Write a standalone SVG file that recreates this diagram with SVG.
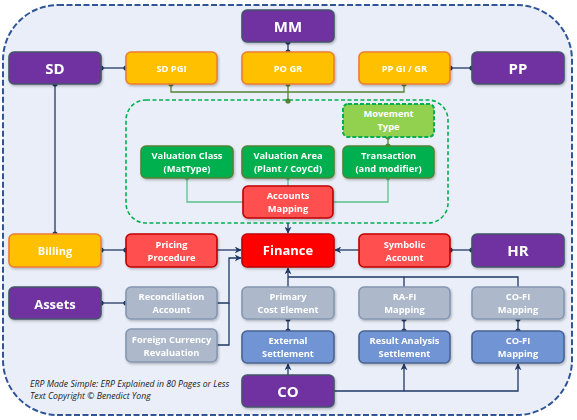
<svg xmlns="http://www.w3.org/2000/svg" width="577" height="420" viewBox="0 0 577 420">
<defs>
<style>
.n{stroke-width:1.6}
.pu{fill:#7030A0;stroke:#44546A}
.ye{fill:#FFC000;stroke:#ED7D31}
.rd{fill:#FF5050;stroke:#C00000}
.fi{fill:#FF0000;stroke:#C00000}
.dg{fill:#00B050;stroke:#548235}
.lg{fill:#92D050;stroke:#00B050;stroke-dasharray:4 2;stroke-width:2}
.gy{fill:#ADB9CA;stroke:#8497B0}
.bl{fill:#6F94D4;stroke:#4A6391}
text{font-family:"Open Sans","Liberation Sans",sans-serif;font-weight:bold;fill:#fff;text-anchor:middle}
.t{font-size:9.3px}
.b{font-size:15px}
.m{font-size:11px}
.c{stroke:#1F3864;stroke-width:1.3;fill:none}
.g{stroke:#548235;stroke-width:1.3;fill:none}
.lgl{stroke:#5CC08A;stroke-width:1.3;fill:none}
.d{fill:#1F3864}
.dgd{fill:#548235}
.ft{font-family:"Open Sans","Liberation Sans",sans-serif;font-style:italic;font-weight:normal;fill:#222;text-anchor:start;font-size:8.7px}
</style>
<marker id="a" viewBox="0 0 10 10" refX="9" refY="5" markerWidth="7" markerHeight="7" orient="auto-start-reverse" markerUnits="userSpaceOnUse">
<path d="M0,0 L10,5 L0,10 L3,5 Z" fill="#1F3864"/>
</marker>
<filter id="sh" x="-10%" y="-10%" width="130%" height="140%">
<feDropShadow dx="1" dy="1.5" stdDeviation="1.2" flood-color="#000" flood-opacity="0.25"/>
</filter>
</defs>
<rect x="3" y="5" width="569" height="410" rx="55" fill="#EAEEF8" stroke="#2F5597" stroke-width="2" stroke-dasharray="6 2.5"/>
<rect id="group-box" x="126" y="100" width="322" height="123" rx="20" fill="none" stroke="#00B050" stroke-width="1.6" stroke-dasharray="4 2.5"/>

<g id="connectors">
<line class="c" x1="101" y1="68" x2="126" y2="68"/>
<line class="c" x1="450" y1="68" x2="472" y2="68"/>
<line class="c" x1="288" y1="42" x2="288" y2="52"/>
<polyline class="g" points="171,84 171,92 404,92 404,84"/>
<line class="g" x1="288" y1="84" x2="288" y2="101"/>
<line class="g" x1="388" y1="137" x2="388" y2="146"/>
<polyline class="lgl" points="187,178 187,202 243,202"/>
<polyline class="lgl" points="388,178 388,202 333,202"/>
<line class="lgl" x1="288" y1="178" x2="288" y2="186"/>
<line class="c" x1="288" y1="223" x2="288" y2="233" marker-end="url(#a)"/>
<line class="c" x1="55" y1="84" x2="55" y2="234"/>
<line class="c" x1="101" y1="250" x2="126" y2="250"/>
<line class="c" x1="217" y1="250" x2="241" y2="250" marker-end="url(#a)"/>
<polyline class="c" points="217,303 229,303 229,258 241,258" marker-end="url(#a)"/>
<polyline class="c" points="217,345 229,345 229,303"/>
<line class="c" x1="101" y1="303" x2="126" y2="303"/>
<line class="c" x1="450" y1="250" x2="472" y2="250"/>
<line class="c" x1="359" y1="250" x2="335" y2="250" marker-end="url(#a)"/>
<line class="c" x1="288" y1="287" x2="288" y2="268" marker-end="url(#a)"/>
<polyline class="c" points="404,287 404,277 288,277"/>
<polyline class="c" points="518,287 518,277 404,277"/>
<line class="c" x1="288" y1="319" x2="288" y2="331"/>
<line class="c" x1="404" y1="319" x2="404" y2="331"/>
<line class="c" x1="518" y1="319" x2="518" y2="331"/>
<line class="c" x1="288" y1="375" x2="288" y2="364" marker-end="url(#a)"/>
<polyline class="c" points="333,391 518,391 518,364" marker-end="url(#a)"/>
<line class="c" x1="404" y1="391" x2="404" y2="364" marker-end="url(#a)"/>
<g class="d">
<circle cx="101" cy="68" r="2.6"/><circle cx="126" cy="68" r="2.6"/>
<circle cx="450" cy="68" r="2.6"/><circle cx="472" cy="68" r="2.6"/>
<circle cx="288" cy="42" r="2.6"/><circle cx="288" cy="52" r="2.6"/>
<circle cx="55" cy="84" r="2.6"/><circle cx="55" cy="234" r="2.6"/>
<circle cx="101" cy="250" r="2.6"/><circle cx="126" cy="250" r="2.6"/>
<circle cx="101" cy="303" r="2.6"/><circle cx="126" cy="303" r="2.6"/>
<circle cx="450" cy="250" r="2.6"/><circle cx="472" cy="250" r="2.6"/>
<circle cx="288" cy="319" r="2.6"/><circle cx="288" cy="331" r="2.6"/>
<circle cx="404" cy="319" r="2.6"/><circle cx="404" cy="331" r="2.6"/>
<circle cx="518" cy="319" r="2.6"/><circle cx="518" cy="331" r="2.6"/>
</g>
<g class="dgd">
<circle cx="171" cy="84" r="2.6"/><circle cx="288" cy="84" r="2.6"/><circle cx="404" cy="84" r="2.6"/>
<circle cx="288" cy="101" r="2.6"/>
<circle cx="388" cy="137" r="2.6"/><circle cx="388" cy="146" r="2.6"/>
</g>
<g fill="#5CC08A">
<circle cx="187" cy="178" r="2.2"/><circle cx="288" cy="178" r="2.2"/><circle cx="388" cy="178" r="2.2"/>
</g>
</g>

<g id="MM" filter="url(#sh)"><rect class="n pu" x="242" y="10" width="92" height="32" rx="5"/><text class="b" x="288" y="31.5">MM</text></g>
<g id="SD" filter="url(#sh)"><rect class="n pu" x="9" y="52" width="92" height="32" rx="5"/><text class="b" x="55" y="73.5">SD</text></g>
<g id="SDPGI" filter="url(#sh)"><rect class="n ye" x="126" y="52" width="91" height="32" rx="5"/><text class="t" x="171.5" y="71.5">SD PGI</text></g>
<g id="POGR" filter="url(#sh)"><rect class="n ye" x="242" y="52" width="92" height="32" rx="5"/><text class="t" x="288" y="71.5">PO GR</text></g>
<g id="PPGIGR" filter="url(#sh)"><rect class="n ye" x="359" y="52" width="91" height="32" rx="5"/><text class="t" x="404.5" y="71.5">PP GI / GR</text></g>
<g id="PP" filter="url(#sh)"><rect class="n pu" x="472" y="52" width="92" height="32" rx="5"/><text class="b" x="518" y="73.5">PP</text></g>

<g id="MovementType"><rect class="lg" x="343" y="104" width="91" height="33" rx="5"/><text class="t" x="388.5" y="117">Movement</text><text class="t" x="388.5" y="130">Type</text></g>
<g id="ValuationClass" filter="url(#sh)"><rect class="n dg" x="141" y="146" width="92" height="32" rx="5"/><text class="t" x="187" y="159">Valuation Class</text><text class="t" x="187" y="172">(MatType)</text></g>
<g id="ValuationArea" filter="url(#sh)"><rect class="n dg" x="242" y="146" width="92" height="32" rx="5"/><text class="t" x="288" y="159">Valuation Area</text><text class="t" x="288" y="172">(Plant / CoyCd)</text></g>
<g id="Transaction" filter="url(#sh)"><rect class="n dg" x="343" y="146" width="91" height="32" rx="5"/><text class="t" x="388.5" y="159">Transaction</text><text class="t" x="388.5" y="172">(and modifier)</text></g>
<g id="AccountsMapping" filter="url(#sh)"><rect class="n rd" x="243" y="186" width="90" height="32" rx="5"/><text class="t" x="288" y="199">Accounts</text><text class="t" x="288" y="212">Mapping</text></g>

<g id="Billing" filter="url(#sh)"><rect class="n ye" x="9" y="234" width="92" height="33" rx="5"/><text class="m" x="55" y="254.5">Billing</text></g>
<g id="PricingProcedure" filter="url(#sh)"><rect class="n rd" x="126" y="234" width="91" height="33" rx="5"/><text class="t" x="171.5" y="247.5">Pricing</text><text class="t" x="171.5" y="260.5">Procedure</text></g>
<g id="Finance" filter="url(#sh)"><rect class="n fi" x="242" y="234" width="92" height="33" rx="5"/><text x="288" y="255" style="font-size:13px">Finance</text></g>
<g id="SymbolicAccount" filter="url(#sh)"><rect class="n rd" x="359" y="234" width="91" height="33" rx="5"/><text class="t" x="404.5" y="247.5">Symbolic</text><text class="t" x="404.5" y="260.5">Account</text></g>
<g id="HR" filter="url(#sh)"><rect class="n pu" x="472" y="234" width="92" height="33" rx="5"/><text class="b" x="518" y="256">HR</text></g>

<g id="Assets" filter="url(#sh)"><rect class="n pu" x="9" y="287" width="92" height="32" rx="5"/><text class="b" x="55" y="308.5" style="font-size:13px">Assets</text></g>
<g id="ReconciliationAccount" filter="url(#sh)"><rect class="n gy" x="126" y="287" width="91" height="32" rx="5"/><text class="t" x="171.5" y="300">Reconciliation</text><text class="t" x="171.5" y="313">Account</text></g>
<g id="PrimaryCostElement" filter="url(#sh)"><rect class="n gy" x="242" y="287" width="92" height="32" rx="5"/><text class="t" x="288" y="300">Primary</text><text class="t" x="288" y="313">Cost Element</text></g>
<g id="RAFIMapping" filter="url(#sh)"><rect class="n gy" x="359" y="287" width="91" height="32" rx="5"/><text class="t" x="404.5" y="300">RA-FI</text><text class="t" x="404.5" y="313">Mapping</text></g>
<g id="COFIMapping1" filter="url(#sh)"><rect class="n gy" x="472" y="287" width="92" height="32" rx="5"/><text class="t" x="518" y="300">CO-FI</text><text class="t" x="518" y="313">Mapping</text></g>

<g id="ForeignCurrencyRevaluation" filter="url(#sh)"><rect class="n gy" x="126" y="329" width="91" height="33" rx="5"/><text class="t" x="171.5" y="342.5">Foreign Currency</text><text class="t" x="171.5" y="355.5">Revaluation</text></g>
<g id="ExternalSettlement" filter="url(#sh)"><rect class="n bl" x="242" y="331" width="92" height="32" rx="5"/><text class="t" x="288" y="344">External</text><text class="t" x="288" y="357">Settlement</text></g>
<g id="ResultAnalysisSettlement" filter="url(#sh)"><rect class="n bl" x="359" y="331" width="91" height="32" rx="5"/><text class="t" x="404.5" y="344">Result Analysis</text><text class="t" x="404.5" y="357">Settlement</text></g>
<g id="COFIMapping2" filter="url(#sh)"><rect class="n bl" x="472" y="331" width="92" height="32" rx="5"/><text class="t" x="518" y="344">CO-FI</text><text class="t" x="518" y="357">Mapping</text></g>
<g id="CO" filter="url(#sh)"><rect class="n pu" x="242" y="375" width="92" height="32" rx="5"/><text class="b" x="288" y="396.5">CO</text></g>

<text class="ft" x="30" y="387">ERP Made Simple: ERP Explained in 80 Pages or Less</text>
<text class="ft" x="30" y="399">Text Copyright © Benedict Yong</text>
</svg>
